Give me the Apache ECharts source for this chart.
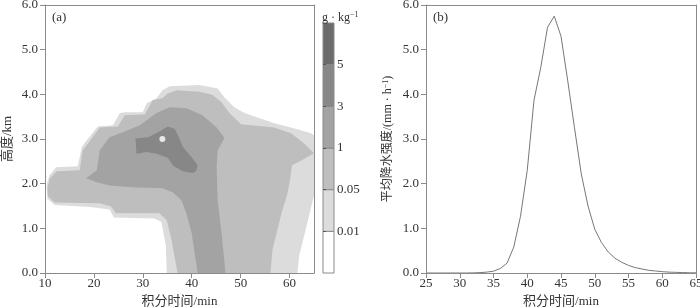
<!DOCTYPE html>
<html>
<head>
<meta charset="utf-8">
<script src="https://cdn.jsdelivr.net/npm/echarts@6/dist/echarts.min.js"></script>
<style>
html,body{margin:0;padding:0;background:#fff;}
#chart{width:700px;height:308px;}
</style>
</head>
<body>
<div id="chart"></div>
<script>
// ---------- Data ----------
// Panel (a): contour outlines [time(min), height(km)] for each filled level
const levelNames = ['0.01', '0.05', '1', '3', '5'];
const binColors = ['#ffffff', '#dcdcdc', '#bebebe', '#a3a3a3', '#878787', '#6b6b6b'];

const contour001 = [[34.9,0],[34.7,0.62],[33.8,1.14],[32.4,1.22],[24.1,1.24],[23.2,1.42],[19.2,1.48],[12.0,1.52],[10.5,1.66],[10.3,1.96],[10.9,2.19],[12.3,2.37],[16.7,2.39],[17.5,2.81],[18.2,2.93],[20.8,3.28],[23.9,3.31],[25.3,3.58],[26.3,3.60],[30.0,3.60],[30.8,3.80],[32.8,3.91],[34.0,4.09],[35.5,4.18],[41.6,4.21],[45.3,4.13],[46.7,3.93],[48.7,3.71],[50.8,3.58],[56.9,3.35],[60.3,3.26],[64.4,3.13],[65,3.08],[65,1.74],[64.0,1.29],[63.0,0.84],[62.0,0.40],[61.6,0]];
const contour005 = [[37.1,0],[35.9,0.73],[34.9,1.18],[33.4,1.34],[24.5,1.34],[23.5,1.49],[21.2,1.56],[12.0,1.58],[10.6,1.72],[10.5,1.90],[11.0,2.12],[12.4,2.28],[17.1,2.30],[17.7,2.75],[18.8,2.90],[21.2,3.26],[24.9,3.28],[26.3,3.53],[30.4,3.55],[32.0,3.87],[34.0,3.91],[35.1,4.02],[36.9,4.09],[41.6,4.06],[44.2,3.99],[46.1,3.82],[47.7,3.58],[50.1,3.33],[56.9,3.26],[60.3,3.13],[63.0,2.90],[65,2.68],[62.4,2.52],[60.5,2.41],[60.1,2.08],[59.5,1.74],[58.5,1.40],[57.5,0.96],[56.5,0.51],[56.1,0]];
const contour1 = [[41.2,0],[40.0,0.89],[38.9,1.34],[37.9,1.63],[36.1,1.81],[34.0,1.90],[27.9,1.92],[23.2,1.96],[20.6,2.03],[18.4,2.12],[20.6,2.30],[21.2,2.75],[23.2,3.04],[25.9,3.15],[29.4,3.31],[32.8,3.58],[35.5,3.71],[38.9,3.69],[42.2,3.53],[45.1,3.26],[46.7,3.02],[45.3,2.75],[45.1,2.37],[45.3,1.63],[46.1,0.89],[46.9,0]];
const contour3 = [[28.5,3.01],[31.1,3.04],[33.4,3.17],[35.1,3.28],[36.5,3.23],[37.2,3.08],[38.2,2.82],[39.9,2.60],[41.2,2.41],[40.9,2.28],[40.2,2.24],[38.2,2.28],[36.2,2.40],[35.1,2.58],[32.8,2.67],[30.7,2.71],[28.7,2.67],[28.6,2.85]];
const maxPoint = [[34, 3.0]];

const xTicksA = [10, 20, 30, 40, 50, 60];

// Panel (b): mean precipitation intensity
const timeB = [25,26,27,28,29,30,31,32,33,34,35,36,37,38,39,40,41,42,43,44,45,46,47,48,49,50,51,52,53,54,55,56,57,58,59,60,61,62,63,64,65];
const rainB = [0,0,0,0,0,0,0,0.003,0.008,0.02,0.04,0.1,0.22,0.58,1.27,2.3,3.87,4.6,5.5,5.75,5.3,4.3,3.25,2.22,1.5,0.98,0.68,0.47,0.33,0.24,0.17,0.12,0.09,0.06,0.045,0.03,0.02,0.015,0.01,0.005,0.003];

// Colorbar bins (0 = below 0.01 ... 5 = above 5)
const cbBins = [0, 1, 2, 3, 4, 5];

// ---------- Chart ----------
const serif = 'Liberation Serif, Noto Sans CJK SC, serif';
const txt = '#333';
const axisGrey = '#8a8a8a';

function polySeries(points, color) {
  return {
    type: 'custom', xAxisIndex: 0, yAxisIndex: 0, clip: true, silent: true,
    data: points,
    renderItem: function (params, api) {
      if (params.dataIndex !== 0) return null;
      const pts = points.map(p => api.coord(p));
      return { type: 'polygon', shape: { points: pts }, style: { fill: color } };
    }
  };
}

const chart = echarts.init(document.getElementById('chart'), null, { renderer: 'canvas' });

const baseLabel = { color: txt, fontFamily: serif, fontSize: 13 };
const supRich = { fontFamily: serif, fontSize: 8, color: txt, fontWeight: 'normal', verticalAlign: 'top' };

const option = {
  animation: false,
  backgroundColor: '#fff',
  title: [
    { text: '(a)', left: 47, top: 6, textStyle: { fontFamily: serif, fontSize: 13, fontWeight: 'normal', color: txt } },
    { text: '(b)', left: 428, top: 6, textStyle: { fontFamily: serif, fontSize: 13, fontWeight: 'normal', color: txt } },
    { text: '{a|g · kg}{s|−1}', left: 317, top: 6,
      textStyle: { fontWeight: 'normal', rich: {
        a: { fontFamily: serif, fontSize: 12, color: txt, fontWeight: 'normal', lineHeight: 14 },
        s: Object.assign({ lineHeight: 14 }, supRich) } } }
  ],
  grid: [
    { left: 45, top: 5, width: 269, height: 268, outerBoundsMode: 'none' },
    { left: 426, top: 5, width: 270, height: 268, outerBoundsMode: 'none' },
    { left: 323, top: 23, width: 11, height: 250, outerBoundsMode: 'none' }
  ],
  xAxis: [
    { gridIndex: 0, type: 'value', min: 10, max: 65, z: 5,
      name: '积分时间/min', nameLocation: 'middle', nameGap: 21,
      nameTextStyle: { color: txt, fontFamily: serif, fontSize: 13 },
      axisLine: { onZero: false, lineStyle: { color: axisGrey } },
      axisTick: { customValues: xTicksA, length: 5, lineStyle: { color: axisGrey } },
      axisLabel: Object.assign({ customValues: xTicksA, margin: 4 }, baseLabel),
      splitLine: { show: false } },
    { gridIndex: 0, type: 'value', min: 10, max: 65, position: 'top', z: 5,
      axisLine: { onZero: false, lineStyle: { color: axisGrey } },
      axisTick: { show: false }, axisLabel: { show: false }, splitLine: { show: false } },
    { gridIndex: 1, type: 'value', min: 25, max: 65, interval: 5, z: 5,
      name: '积分时间/min', nameLocation: 'middle', nameGap: 21,
      nameTextStyle: { color: txt, fontFamily: serif, fontSize: 13 },
      axisLine: { onZero: false, lineStyle: { color: axisGrey } },
      axisTick: { length: 5, lineStyle: { color: axisGrey } },
      axisLabel: Object.assign({ margin: 4 }, baseLabel),
      splitLine: { show: false } },
    { gridIndex: 1, type: 'value', min: 25, max: 65, position: 'top', z: 5,
      axisLine: { onZero: false, lineStyle: { color: axisGrey } },
      axisTick: { show: false }, axisLabel: { show: false }, splitLine: { show: false } },
    { gridIndex: 2, type: 'value', min: 0, max: 1, show: false }
  ],
  yAxis: [
    { gridIndex: 0, type: 'value', min: 0, max: 6, interval: 1, z: 5,
      name: '高度/km', nameLocation: 'middle', nameGap: 31,
      nameTextStyle: { color: txt, fontFamily: serif, fontSize: 13 },
      axisLine: { show: true, onZero: false, lineStyle: { color: axisGrey } },
      axisTick: { show: true, length: 5, lineStyle: { color: axisGrey } },
      axisLabel: Object.assign({ margin: 7, formatter: v => v.toFixed(1) }, baseLabel),
      splitLine: { show: false } },
    { gridIndex: 0, type: 'value', min: 0, max: 6, position: 'right', z: 5,
      axisLine: { show: true, onZero: false, lineStyle: { color: axisGrey } },
      axisTick: { show: false }, axisLabel: { show: false }, splitLine: { show: false } },
    { gridIndex: 1, type: 'value', min: 0, max: 6, interval: 1, z: 5,
      name: '平均降水强度/(mm · h{s|−1})', nameLocation: 'middle', nameGap: 32,
      nameTextStyle: { color: txt, fontFamily: serif, fontSize: 12, rich: { s: supRich } },
      axisLine: { show: true, onZero: false, lineStyle: { color: axisGrey } },
      axisTick: { show: true, length: 5, lineStyle: { color: axisGrey } },
      axisLabel: Object.assign({ margin: 7, formatter: v => v.toFixed(1) }, baseLabel),
      splitLine: { show: false } },
    { gridIndex: 1, type: 'value', min: 0, max: 6, position: 'right', z: 5,
      axisLine: { show: true, onZero: false, lineStyle: { color: axisGrey } },
      axisTick: { show: false }, axisLabel: { show: false }, splitLine: { show: false } },
    { gridIndex: 2, type: 'value', min: 0, max: 6, interval: 1, position: 'right', z: 5,
      axisLine: { show: false },
      axisTick: { show: true, customValues: [1, 2, 3, 4, 5], length: 3, lineStyle: { color: '#555' } },
      axisLabel: Object.assign({ customValues: [1, 2, 3, 4, 5], margin: 3, formatter: v => levelNames[v - 1] }, baseLabel),
      splitLine: { show: false } }
  ],
  series: [
    polySeries(contour001, binColors[1]),
    polySeries(contour005, binColors[2]),
    polySeries(contour1, binColors[3]),
    polySeries(contour3, binColors[4]),
    { type: 'scatter', xAxisIndex: 0, yAxisIndex: 0, data: maxPoint, symbolSize: 6,
      itemStyle: { color: '#fff' }, silent: true, z: 4 },
    { type: 'line', xAxisIndex: 2, yAxisIndex: 2, data: timeB.map((t, i) => [t, rainB[i]]),
      showSymbol: false, symbol: 'none', smooth: false,
      lineStyle: { color: '#777', width: 1 }, silent: true },
    { type: 'custom', xAxisIndex: 4, yAxisIndex: 4, silent: true,
      data: cbBins.map(b => [0, b]),
      renderItem: function (params, api) {
        const i = api.value(1);
        const p0 = api.coord([0, i + 1]);
        const p1 = api.coord([1, i]);
        return { type: 'rect', shape: { x: p0[0], y: p0[1], width: p1[0] - p0[0], height: p1[1] - p0[1] },
          style: { fill: binColors[i], stroke: '#8a8a8a', lineWidth: 1 } };
      } }
  ]
};
chart.setOption(option);
</script>
</body>
</html>
